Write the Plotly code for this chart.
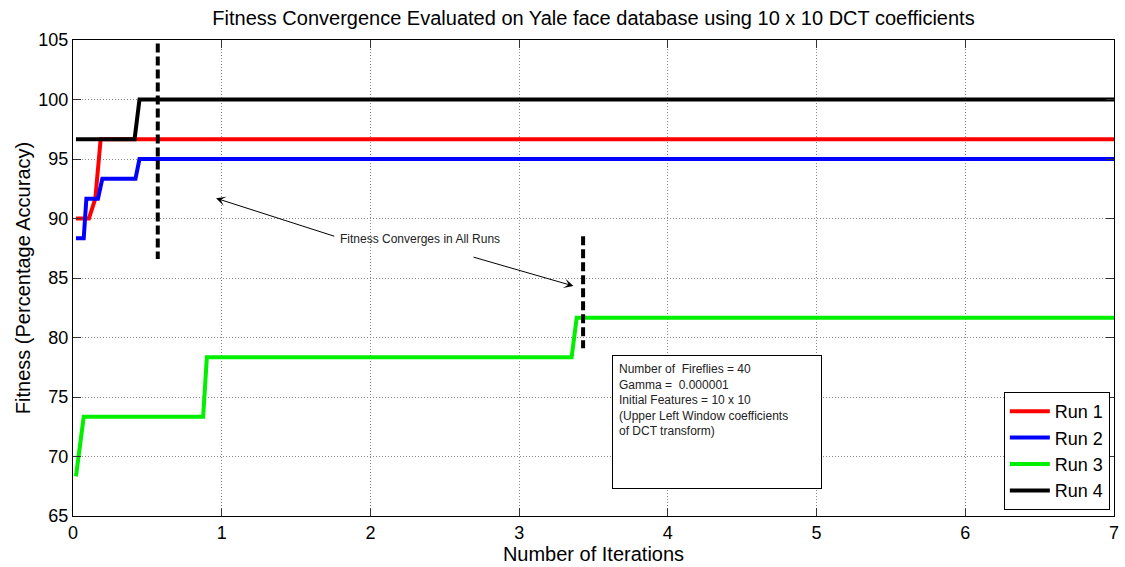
import plotly.graph_objects as go

# ---------------- data ----------------
run_names = ["Run 1", "Run 2", "Run 3", "Run 4"]

run1_x = [0.02, 0.107, 0.15, 0.186, 7]
run1_y = [90.0, 90.0, 91.67, 96.67, 96.67]

run2_x = [0.02, 0.072, 0.09, 0.168, 0.197, 0.42, 0.447, 7]
run2_y = [88.33, 88.33, 91.67, 91.67, 93.33, 93.33, 95.0, 95.0]

run3_x = [0.02, 0.072, 0.875, 0.9, 3.353, 3.387, 7]
run3_y = [68.33, 73.33, 73.33, 78.33, 78.33, 81.67, 81.67]

run4_x = [0.02, 0.414, 0.447, 7]
run4_y = [96.67, 96.67, 100.0, 100.0]

# convergence markers (dashed vertical lines)
conv_x = [0.57, 3.43]
conv_y_top = [104.7, 88.5]
conv_y_bottom = [86.6, 79.1]

x_ticks = [0, 1, 2, 3, 4, 5, 6, 7]
y_ticks = [65, 70, 75, 80, 85, 90, 95, 100, 105]

info_lines = [
    "Number of  Fireflies = 40",
    "Gamma =  0.000001",
    "Initial Features = 10 x 10",
    "(Upper Left Window coefficients",
    "of DCT transform)",
]

# ---------------- figure ----------------
FONT = "Liberation Sans, Arial, sans-serif"
colors = ["#ff0000", "#0000ff", "#00f000", "#000000"]
xs = [run1_x, run2_x, run3_x, run4_x]
ys = [run1_y, run2_y, run3_y, run4_y]

fig = go.Figure()
for name, x, y, c in zip(run_names, xs, ys, colors):
    fig.add_trace(go.Scatter(x=x, y=y, mode="lines", name=name,
                             line=dict(color=c, width=4)))

for cx, yt, yb in zip(conv_x, conv_y_top, conv_y_bottom):
    fig.add_trace(go.Scatter(x=[cx, cx], y=[yt, yb], mode="lines",
                             showlegend=False, hoverinfo="skip",
                             line=dict(color="black", width=4, dash="9px,4px")))

# arrows
fig.add_annotation(x=0.962, y=91.7, ax=1.767, ay=88.47, xref="x", yref="y",
                   axref="x", ayref="y", text="", showarrow=True,
                   arrowhead=3, arrowsize=1.6, arrowwidth=1, arrowcolor="black")
fig.add_annotation(x=3.365, y=84.33, ax=2.683, ay=86.79, xref="x", yref="y",
                   axref="x", ayref="y", text="", showarrow=True,
                   arrowhead=3, arrowsize=1.6, arrowwidth=1, arrowcolor="black")
fig.add_annotation(x=2.33, y=88.25, xref="x", yref="y",
                   text="Fitness Converges in All Runs", showarrow=False,
                   font=dict(family=FONT, size=12, color="#222"))

# info box
fig.add_annotation(x=3.622, y=78.53, xref="x", yref="y", xanchor="left", yanchor="top",
                   text="<br>".join(info_lines), showarrow=False, align="left",
                   valign="top", width=196, height=120, borderpad=6,
                   bordercolor="black", borderwidth=1, bgcolor="white",
                   font=dict(family=FONT, size=12, color="#222"))

axis_common = dict(
    showline=True, linecolor="black", linewidth=1, mirror="ticks",
    ticks="inside", ticklen=8, tickcolor="#333", tickwidth=1,
    showgrid=True, gridcolor="#888", gridwidth=1, griddash="1px,2px",
    zeroline=False, tickfont=dict(family=FONT, size=18, color="black"),
    ticklabeloverflow="allow",
)

fig.update_xaxes(range=[0, 7], tickvals=x_ticks, **axis_common,
                 title=dict(text="Number of Iterations", standoff=2,
                            font=dict(family=FONT, size=20, color="black")))
fig.update_yaxes(range=[65, 105], tickvals=y_ticks, **axis_common,
                 title=dict(text="Fitness (Percentage Accuracy)", standoff=2,
                            font=dict(family=FONT, size=20, color="black")))

fig.update_layout(
    width=1125, height=567,
    margin=dict(l=73, r=6, t=40, b=51),
    paper_bgcolor="white", plot_bgcolor="white",
    title=dict(text="Fitness Convergence Evaluated on Yale face database using 10 x 10 DCT coefficients",
               x=0.5, xref="paper", y=0.968, yanchor="middle", yref="container",
               font=dict(family=FONT, size=20, color="black")),
    legend=dict(x=0.996, y=0.0126, xanchor="right", yanchor="bottom",
                bgcolor="white", bordercolor="black", borderwidth=1,
                font=dict(family=FONT, size=18, color="black"),
                itemwidth=40, tracegroupgap=0),
    showlegend=True,
)

fig.write_html("out.html")
